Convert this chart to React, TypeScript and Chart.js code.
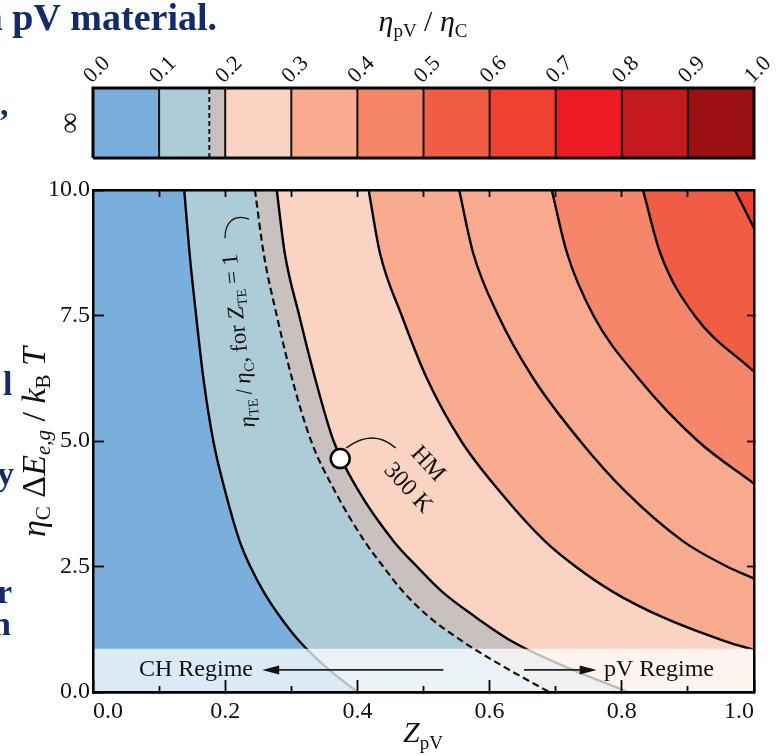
import React, { useEffect, useRef } from 'react';
import { Chart, registerables } from 'chart.js';

Chart.register(...registerables);

const SERIF = '"Liberation Serif", "Times New Roman", Times, serif';
const NAVY = '#142B6B';

// ---------- axis ticks ----------
const X_MAJOR_TICKS = [0, 0.2, 0.4, 0.6, 0.8, 1.0];
const X_MINOR_TICKS = [0.1, 0.3, 0.5, 0.7, 0.9];
const X_TOP_TICKS = [0.1, 0.2, 0.3, 0.4, 0.5, 0.6, 0.7, 0.8, 0.9];
const Y_TICKS = [0, 2.5, 5, 7.5, 10];
const Y_RIGHT_TICKS = [2.5, 5, 7.5];

// ---------- colour bar ----------
const CB_TICKS = [0, 0.1, 0.2, 0.3, 0.4, 0.5, 0.6, 0.7, 0.8, 0.9, 1.0];
const CB_BOUNDS = [0, 0.1, 0.176, 0.2, 0.3, 0.4, 0.5, 0.6, 0.7, 0.8, 0.9, 1.0];
const CB_COLORS = ['#79AEDD', '#AECBD8', '#C9C1C0', '#FBD3C2', '#F9AB8F', '#F5866A', '#F15D44', '#EE4130', '#EC1C24', '#C41A1F', '#9C1014'];
const CB_DASHED = 0.176;

// ---------- contour curves (Z_pV, eta_C dE / kT) ----------
const Y_GRID = [10, 8.75, 7.5, 6.25, 5.0, 4.0, 3.0, 2.5, 2.0, 1.5, 1.0, 0.5, 0.0];
const Z_010 = [0.138, 0.146, 0.156, 0.167, 0.182, 0.200, 0.222, 0.238, 0.258, 0.283, 0.313, 0.352, 0.400];
const Z_TE = [0.245, 0.258, 0.278, 0.301, 0.330, 0.366, 0.411, 0.439, 0.469, 0.508, 0.560, 0.622, 0.690];
const Z_020 = [0.278, 0.290, 0.312, 0.336, 0.364, 0.402, 0.455, 0.490, 0.528, 0.578, 0.635, 0.715, 0.810];
const Y_030 = [10, 8.75, 7.5, 6.25, 5.0, 4.0, 3.0, 2.5, 2.0, 1.5, 1.0, 0.84];
const Z_030 = [0.417, 0.434, 0.467, 0.505, 0.557, 0.615, 0.684, 0.730, 0.786, 0.860, 0.959, 1.0];
const Y_040 = [10, 8.75, 7.5, 6.25, 5.0, 4.0, 3.0, 2.5, 2.26];
const Z_040 = [0.554, 0.575, 0.613, 0.666, 0.737, 0.805, 0.893, 0.959, 1.0];
const Y_050 = [10, 8.75, 7.5, 6.25, 5.0, 4.15];
const Z_050 = [0.694, 0.717, 0.757, 0.825, 0.915, 1.0];
const Y_060 = [10, 8.75, 7.5, 6.38];
const Z_060 = [0.832, 0.858, 0.910, 1.0];
const Y_070 = [10, 9.24];
const Z_070 = [0.971, 1.0];

const BG_COLOR = '#79AEDD';
const REGION_COLORS = ['#AECBD8', '#C9C1C0', '#FBD3C2', '#F9AB8F', '#F9AA8E', '#F5866A', '#F15D44', '#EE4130'];

// ---------- annotations (data coordinates) ----------
const BAND_TOP = 0.86;
const HM_Z = [0.374];
const HM_Y = [4.65];
const ARROW_Y = 0.44;
const CH_ARROW = [0.530, 0.256];
const PV_ARROW = [0.652, 0.762];
const HM_LEADER_Z = [0.383, 0.4236, 0.458];
const HM_LEADER_Y = [4.86, 5.26, 4.86];
const TE_LEADER_Z = [0.1997, 0.1997, 0.2133, 0.236];
const TE_LEADER_Y = [9.04, 9.36, 9.53, 9.42];

type Seg = { t: string; f: string; dy?: number };
const it = (s: number) => `italic ${s}px ${SERIF}`;
const rm = (s: number) => `${s}px ${SERIF}`;

function drawRich(ctx: CanvasRenderingContext2D, segs: Seg[], x: number, y: number, rot: number, shift: number, align = 'center') {
  ctx.save();
  ctx.translate(x, y);
  ctx.rotate(rot);
  ctx.textAlign = 'left';
  ctx.textBaseline = 'alphabetic';
  let w = 0;
  const ws: number[] = [];
  for (const s of segs) {
    ctx.font = s.f;
    const m = ctx.measureText(s.t).width;
    ws.push(m);
    w += m;
  }
  let cx = align === 'center' ? -w / 2 : align === 'right' ? -w : 0;
  segs.forEach((s, i) => {
    ctx.font = s.f;
    ctx.fillText(s.t, cx, shift + (s.dy || 0));
    cx += ws[i];
  });
  ctx.restore();
}

const toPts = (zs: number[], ys: number[]) => zs.map((z, i) => ({ x: z, y: ys[i] }));
function extend(pts: { x: number; y: number }[]) {
  const out = pts.slice();
  const a = pts[pts.length - 2];
  const b = pts[pts.length - 1];
  if (b.x >= 0.999) {
    const t = (1.08 - b.x) / (b.x - a.x);
    out.push({ x: 1.08, y: b.y + t * (b.y - a.y) });
  } else {
    const t = (-1 - b.y) / (b.y - a.y);
    out.push({ x: b.x + t * (b.x - a.x), y: -1 });
    out.push({ x: 1.3, y: -1 });
  }
  return out;
}

const zeroPad = (s: any) => {
  s.paddingLeft = 0;
  s.paddingRight = 0;
  s.paddingTop = 0;
  s.paddingBottom = 0;
};
const setTicks = (arr: number[]) => (s: any) => {
  s.ticks = arr.map((v) => ({ value: v }));
};

function arrowHead(ctx: CanvasRenderingContext2D, x: number, y: number, dir: number) {
  const len = 17;
  const hw = 4.5;
  ctx.beginPath();
  ctx.moveTo(x, y);
  ctx.lineTo(x - dir * len, y - hw);
  ctx.lineTo(x - dir * len, y + hw);
  ctx.closePath();
  ctx.fill();
}

const mainAnnot = {
  id: 'mainAnnot',
  afterDraw(chart: any) {
    const ctx: CanvasRenderingContext2D = chart.ctx;
    const xs = chart.scales.x;
    const ys = chart.scales.y;
    const px = (v: number) => xs.getPixelForValue(v);
    const py = (v: number) => ys.getPixelForValue(v);
    ctx.save();
    ctx.fillStyle = '#111';
    arrowHead(ctx, px(CH_ARROW[1]), py(ARROW_Y), -1);
    arrowHead(ctx, px(PV_ARROW[1]), py(ARROW_Y), 1);

    ctx.strokeStyle = '#111';
    ctx.lineWidth = 1.3;
    ctx.beginPath();
    ctx.moveTo(px(HM_LEADER_Z[0]), py(HM_LEADER_Y[0]));
    ctx.quadraticCurveTo(px(HM_LEADER_Z[1]), py(HM_LEADER_Y[1]), px(HM_LEADER_Z[2]), py(HM_LEADER_Y[2]));
    ctx.stroke();
    ctx.beginPath();
    ctx.moveTo(px(TE_LEADER_Z[0]), py(TE_LEADER_Y[0]));
    ctx.bezierCurveTo(px(TE_LEADER_Z[1]), py(TE_LEADER_Y[1]), px(TE_LEADER_Z[2]), py(TE_LEADER_Y[2]), px(TE_LEADER_Z[3]), py(TE_LEADER_Y[3]));
    ctx.stroke();

    ctx.fillStyle = '#111';
    // axis titles
    drawRich(ctx, [
      { t: 'η', f: it(34) },
      { t: 'C', f: rm(21), dy: 5 },
      { t: ' Δ', f: rm(34) },
      { t: 'E', f: it(34) },
      { t: 'e,g', f: it(21), dy: 5 },
      { t: ' / ', f: rm(34) },
      { t: 'k', f: it(34) },
      { t: 'B', f: rm(21), dy: 5 },
      { t: ' T', f: it(34) },
    ], 34, 442, -Math.PI / 2, 11);
    drawRich(ctx, [
      { t: 'Z', f: it(30) },
      { t: 'pV', f: rm(19), dy: 7 },
    ], 423, 742, 0, 0);

    // curve label
    drawRich(ctx, [
      { t: 'η', f: it(23) },
      { t: 'TE', f: rm(14), dy: 5 },
      { t: '\u2009/\u2009', f: rm(23) },
      { t: 'η', f: it(23) },
      { t: 'C', f: rm(14), dy: 5 },
      { t: ', for ', f: rm(23) },
      { t: 'Z', f: it(23) },
      { t: 'TE', f: rm(14), dy: 5 },
      { t: ' = 1', f: rm(23) },
    ], 238, 341, (-96 * Math.PI) / 180, 8);

    drawRich(ctx, [{ t: 'HM', f: rm(24) }], 429, 463, (47 * Math.PI) / 180, 8);
    drawRich(ctx, [{ t: '300 K', f: rm(24) }], 409, 487, (47 * Math.PI) / 180, 8);
    drawRich(ctx, [{ t: 'CH Regime', f: rm(24) }], 196, 668, 0, 8);
    drawRich(ctx, [{ t: 'pV Regime', f: rm(24) }], 659, 668, 0, 8);

    // fragments of surrounding slide text
    ctx.fillStyle = NAVY;
    ctx.font = `bold 34px ${SERIF}`;
    ctx.textAlign = 'left';
    ctx.textBaseline = 'alphabetic';
    ctx.fillText(',', 0, 115);
    ctx.fillText('l', 3, 395);
    ctx.fillText('y', -3, 485);
    ctx.fillText('r', -3, 603);
    ctx.fillText('n', -8, 635);
    ctx.restore();
  },
};

const cbAnnot = {
  id: 'cbAnnot',
  afterDraw(chart: any) {
    const ctx: CanvasRenderingContext2D = chart.ctx;
    ctx.save();
    ctx.fillStyle = '#111';
    drawRich(ctx, [
      { t: 'η', f: it(30) },
      { t: 'pV', f: rm(19), dy: 6 },
      { t: ' / ', f: rm(30) },
      { t: 'η', f: it(30) },
      { t: 'C', f: rm(19), dy: 6 },
    ], 423, 31, 0, 0);
    ctx.fillStyle = NAVY;
    ctx.font = `bold 38px ${SERIF}`;
    ctx.textAlign = 'right';
    ctx.textBaseline = 'alphabetic';
    ctx.fillText('a pV material.', 217, 30);
    ctx.restore();
  },
};

function buildMain(canvas: HTMLCanvasElement) {
  const contours = [
    { z: Z_010, y: Y_GRID, dashed: false },
    { z: Z_TE, y: Y_GRID, dashed: true },
    { z: Z_020, y: Y_GRID, dashed: false },
    { z: Z_030, y: Y_030, dashed: false },
    { z: Z_040, y: Y_040, dashed: false },
    { z: Z_050, y: Y_050, dashed: false },
    { z: Z_060, y: Y_060, dashed: false },
    { z: Z_070, y: Y_070, dashed: false },
  ];
  const datasets: any[] = [];
  datasets.push({
    data: [{ x: 0, y: 10 }, { x: 1, y: 10 }],
    showLine: true, fill: 'start', backgroundColor: BG_COLOR, borderColor: 'rgba(0,0,0,0)', borderWidth: 0,
    pointRadius: 0, order: 100, clip: 0,
  });
  contours.forEach((c, i) => {
    datasets.push({
      data: extend(toPts(c.z, c.y)),
      showLine: true, fill: 'end', backgroundColor: REGION_COLORS[i],
      borderColor: c.dashed ? 'rgba(0,0,0,0)' : '#000', borderWidth: 2.4,
      pointRadius: 0, cubicInterpolationMode: 'monotone', capBezierPoints: false,
      order: 90 - i * 5, clip: 0,
    });
  });
  datasets.push({
    data: [{ x: 0, y: BAND_TOP }, { x: 1, y: BAND_TOP }],
    showLine: true, fill: 'start', backgroundColor: 'rgba(255,255,255,0.74)', borderColor: 'rgba(0,0,0,0)', borderWidth: 0,
    pointRadius: 0, order: 20, clip: 0,
  });
  datasets.push({
    data: extend(toPts(Z_TE, Y_GRID)),
    showLine: true, fill: false, borderColor: '#111', borderWidth: 2.2, borderDash: [7, 4],
    pointRadius: 0, cubicInterpolationMode: 'monotone', capBezierPoints: false, order: 15, clip: 0,
  });
  datasets.push({
    data: [{ x: CH_ARROW[0], y: ARROW_Y }, { x: CH_ARROW[1] + 0.024, y: ARROW_Y }],
    showLine: true, fill: false, borderColor: '#222', borderWidth: 1.6, pointRadius: 0, order: 10,
  });
  datasets.push({
    data: [{ x: PV_ARROW[0], y: ARROW_Y }, { x: PV_ARROW[1] - 0.024, y: ARROW_Y }],
    showLine: true, fill: false, borderColor: '#222', borderWidth: 1.6, pointRadius: 0, order: 10,
  });
  datasets.push({
    data: HM_Z.map((z, i) => ({ x: z, y: HM_Y[i] })),
    showLine: false, pointRadius: 9.5, pointBackgroundColor: '#fff', pointBorderColor: '#000', pointBorderWidth: 2.5,
    order: 5, clip: false,
  });

  const tickGrid = (len: number) => ({
    display: true, drawOnChartArea: false, drawTicks: true, tickLength: len, tickWidth: 1.8, tickColor: '#000', z: 1,
  });
  const border = { display: true, color: '#000', width: 2.5, z: 2 };
  const tickFont = { family: SERIF, size: 24 };

  return new Chart(canvas, {
    type: 'scatter',
    data: { datasets },
    options: {
      responsive: false,
      animation: false,
      devicePixelRatio: 1,
      events: [],
      layout: { padding: { top: 190, right: 24, bottom: 0, left: 0 } },
      plugins: { legend: { display: false }, tooltip: { enabled: false } },
      scales: {
        xMinor: {
          type: 'linear', position: 'bottom', weight: 0, min: 0, max: 1,
          afterBuildTicks: setTicks(X_MINOR_TICKS),
          ticks: { display: false },
          grid: tickGrid(-6), border,
          afterFit: (s: any) => { s.height = 0; zeroPad(s); },
        },
        x: {
          type: 'linear', position: 'bottom', weight: 1, min: 0, max: 1,
          afterBuildTicks: setTicks(X_MAJOR_TICKS),
          ticks: {
            autoSkip: false, maxRotation: 0, minRotation: 0, align: 'inner', padding: 17, color: '#111', font: tickFont,
            callback: (v: any) => Number(v).toFixed(1),
          },
          grid: tickGrid(-12), border,
          afterFit: (s: any) => { s.height = 64; zeroPad(s); },
        },
        xTop: {
          type: 'linear', position: 'top', min: 0, max: 1,
          afterBuildTicks: setTicks(X_TOP_TICKS),
          ticks: { display: false },
          grid: tickGrid(-7), border,
          afterFit: (s: any) => { s.height = 0; zeroPad(s); },
        },
        y: {
          type: 'linear', position: 'left', min: 0, max: 10,
          afterBuildTicks: setTicks(Y_TICKS),
          ticks: {
            autoSkip: false, padding: 14, color: '#111', font: tickFont,
            callback: (v: any) => Number(v).toFixed(1),
          },
          grid: tickGrid(-11), border,
          afterFit: (s: any) => { s.width = 93; zeroPad(s); },
        },
        yRight: {
          type: 'linear', position: 'right', min: 0, max: 10,
          afterBuildTicks: setTicks(Y_RIGHT_TICKS),
          ticks: { display: false },
          grid: tickGrid(-7), border,
          afterFit: (s: any) => { s.width = 0; zeroPad(s); },
        },
      },
    } as any,
    plugins: [mainAnnot],
  });
}

function buildColorbar(canvas: HTMLCanvasElement) {
  const datasets: any[] = [];
  CB_COLORS.forEach((col, i) => {
    datasets.push({
      data: [{ x: CB_BOUNDS[i], y: 1 }, { x: CB_BOUNDS[i + 1], y: 1 }],
      showLine: true, fill: 'start', backgroundColor: col, borderColor: 'rgba(0,0,0,0)', borderWidth: 0,
      pointRadius: 0, order: 50, clip: 0,
    });
  });
  CB_BOUNDS.slice(1, -1).forEach((b) => {
    const dashed = b === CB_DASHED;
    datasets.push({
      data: [{ x: b, y: 0 }, { x: b, y: 1 }],
      showLine: true, fill: false, borderColor: '#111', borderWidth: 2, borderDash: dashed ? [5, 3] : [],
      pointRadius: 0, order: 10, clip: 0,
    });
  });
  datasets.push({
    data: [{ x: 0, y: 0 }, { x: 1, y: 0 }, { x: 1, y: 1 }, { x: 0, y: 1 }, { x: 0, y: 0 }],
    showLine: true, fill: false, borderColor: '#000', borderWidth: 3, borderJoinStyle: 'miter',
    pointRadius: 0, order: 1, clip: false,
  });

  return new Chart(canvas, {
    type: 'scatter',
    data: { datasets },
    options: {
      responsive: false,
      animation: false,
      devicePixelRatio: 1,
      events: [],
      layout: { padding: { top: 0, right: 24, bottom: 598, left: 0 } },
      plugins: { legend: { display: false }, tooltip: { enabled: false } },
      scales: {
        x: {
          type: 'linear', position: 'top', min: 0, max: 1,
          afterBuildTicks: setTicks(CB_TICKS),
          ticks: {
            autoSkip: false, minRotation: 45, maxRotation: 45, labelOffset: 13, padding: -1, color: '#111',
            font: { family: SERIF, size: 22 },
            callback: (v: any) => Number(v).toFixed(1),
          },
          grid: { display: true, drawOnChartArea: false, drawTicks: false },
          border: { display: false },
          afterFit: (s: any) => { s.height = 88; zeroPad(s); },
        },
        y: {
          type: 'linear', position: 'left', min: 0, max: 1,
          ticks: { display: false },
          grid: { display: false, drawTicks: false },
          border: { display: false },
          title: { display: true, text: '∞', color: '#111', font: { family: SERIF, size: 30 }, padding: { top: 53, bottom: 0 } },
          afterFit: (s: any) => { s.width = 93; zeroPad(s); },
        },
      },
    } as any,
    plugins: [cbAnnot],
  });
}

export default function App() {
  const mainRef = useRef<HTMLCanvasElement>(null);
  const cbRef = useRef<HTMLCanvasElement>(null);
  useEffect(() => {
    const main = buildMain(mainRef.current!);
    const cb = buildColorbar(cbRef.current!);
    return () => {
      main.destroy();
      cb.destroy();
    };
  }, []);
  const st: React.CSSProperties = { position: 'absolute', left: 0, top: 0, width: 778, height: 756 };
  return (
    <div style={{ ...st, background: '#fff', overflow: 'hidden' }}>
      <canvas ref={mainRef} width={778} height={756} style={st} />
      <canvas ref={cbRef} width={778} height={756} style={st} />
    </div>
  );
}
